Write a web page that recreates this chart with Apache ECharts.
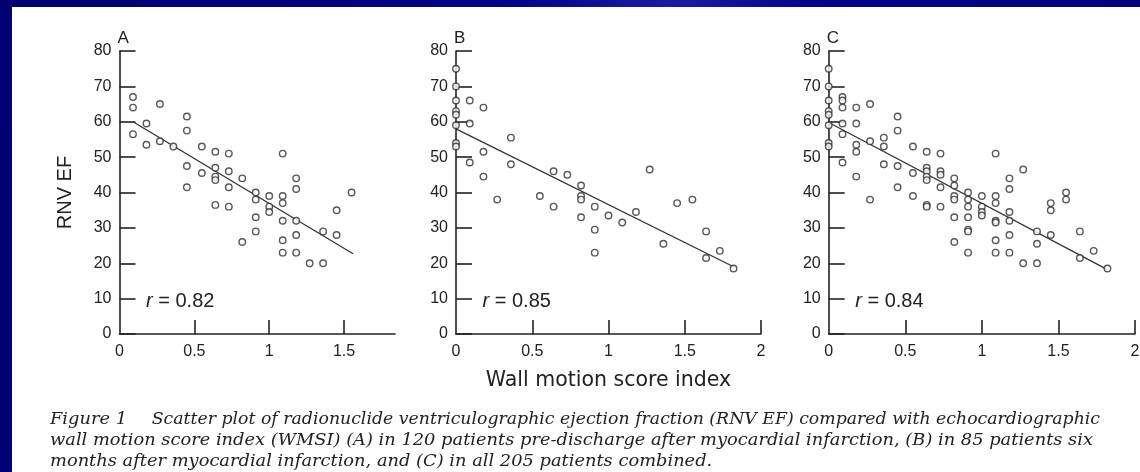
<!DOCTYPE html>
<html>
<head>
<meta charset="utf-8">
<title>Figure 1 - RNV EF vs wall motion score index</title>
<script src="https://cdn.jsdelivr.net/npm/echarts@6.0.0/dist/echarts.min.js"></script>
<style>
  html, body { margin: 0; padding: 0; }
  body {
    width: 1140px; height: 472px; overflow: hidden; position: relative;
    background: linear-gradient(100deg, #000070 0%, #000086 40%, #1a1aa2 55%, #000088 68%, #00007c 100%);
  }
  #main { position: absolute; left: 12px; top: 7px; width: 1128px; height: 465px; background: #fff; }
</style>
</head>
<body>
<div id="main"></div>
<script>
// tick labels
var yTicks = [0, 10, 20, 30, 40, 50, 60, 70, 80];
var xTicksA = [0, 0.5, 1, 1.5];
var xTicksBC = [0, 0.5, 1, 1.5, 2];

// (A) 120 patients pre-discharge: [WMSI, RNV EF]
var pointsA = [
  [0.09, 67], [0.09, 64], [0.09, 56.5],
  [0.18, 59.5], [0.18, 53.5],
  [0.27, 65], [0.27, 54.5],
  [0.36, 53],
  [0.45, 61.5], [0.45, 57.5], [0.45, 47.5], [0.45, 41.5],
  [0.55, 53], [0.55, 45.5],
  [0.64, 51.5], [0.64, 47], [0.64, 44.5], [0.64, 43.5], [0.64, 36.5],
  [0.73, 51], [0.73, 46], [0.73, 41.5], [0.73, 36],
  [0.82, 44], [0.82, 26],
  [0.91, 40], [0.91, 38], [0.91, 33], [0.91, 29],
  [1.0, 39], [1.0, 36], [1.0, 34.5],
  [1.09, 51], [1.09, 39], [1.09, 37], [1.09, 32], [1.09, 26.5], [1.09, 23],
  [1.18, 44], [1.18, 41], [1.18, 32], [1.18, 28], [1.18, 23],
  [1.27, 20],
  [1.36, 29], [1.36, 20],
  [1.45, 35], [1.45, 28],
  [1.55, 40]
];

// (B) 85 patients six months after MI
var pointsB = [
  [0, 75], [0, 70], [0, 66], [0, 63], [0, 62], [0, 59], [0, 54], [0, 53],
  [0.09, 66], [0.09, 59.5], [0.09, 48.5],
  [0.18, 64], [0.18, 51.5], [0.18, 44.5],
  [0.27, 38],
  [0.36, 55.5], [0.36, 48],
  [0.55, 39],
  [0.64, 46], [0.64, 36],
  [0.73, 45],
  [0.82, 42], [0.82, 39], [0.82, 38], [0.82, 33],
  [0.91, 36], [0.91, 29.5], [0.91, 23],
  [1.0, 33.5],
  [1.09, 31.5],
  [1.18, 34.5],
  [1.27, 46.5],
  [1.36, 25.5],
  [1.45, 37],
  [1.55, 38],
  [1.64, 29], [1.64, 21.5],
  [1.73, 23.5],
  [1.82, 18.5]
];

// (C) all 205 patients
var pointsC = [
  [0, 75], [0, 70], [0, 66], [0, 63], [0, 62], [0, 59], [0, 54], [0, 53],
  [0.09, 67], [0.09, 66], [0.09, 64], [0.09, 59.5], [0.09, 56.5], [0.09, 48.5],
  [0.18, 64], [0.18, 59.5], [0.18, 53.5], [0.18, 51.5], [0.18, 44.5],
  [0.27, 65], [0.27, 54.5], [0.27, 38],
  [0.36, 55.5], [0.36, 53], [0.36, 48],
  [0.45, 61.5], [0.45, 57.5], [0.45, 47.5], [0.45, 41.5],
  [0.55, 53], [0.55, 45.5], [0.55, 39],
  [0.64, 51.5], [0.64, 47], [0.64, 46], [0.64, 44.5], [0.64, 43.5], [0.64, 36.5], [0.64, 36],
  [0.73, 51], [0.73, 46], [0.73, 45], [0.73, 41.5], [0.73, 36],
  [0.82, 44], [0.82, 42], [0.82, 39], [0.82, 38], [0.82, 33], [0.82, 26],
  [0.91, 40], [0.91, 38], [0.91, 36], [0.91, 33], [0.91, 29.5], [0.91, 29], [0.91, 23],
  [1.0, 39], [1.0, 36], [1.0, 34.5], [1.0, 33.5],
  [1.09, 51], [1.09, 39], [1.09, 37], [1.09, 32], [1.09, 31.5], [1.09, 26.5], [1.09, 23],
  [1.18, 44], [1.18, 41], [1.18, 34.5], [1.18, 32], [1.18, 28], [1.18, 23],
  [1.27, 46.5], [1.27, 20],
  [1.36, 29], [1.36, 25.5], [1.36, 20],
  [1.45, 37], [1.45, 35], [1.45, 28],
  [1.55, 40], [1.55, 38],
  [1.64, 29], [1.64, 21.5],
  [1.73, 23.5],
  [1.82, 18.5]
];

// regression lines (end points)
var fitA = [[0.09, 60], [1.56, 22.7]];
var fitB = [[0, 58], [1.82, 19]];
var fitC = [[0, 59.8], [1.82, 18.2]];

var panelNames = ['A', 'B', 'C'];
var rValues = ['0.82', '0.85', '0.84'];

var captionHead = 'Figure 1';
var captionLines = [
  'Scatter plot of radionuclide ventriculographic ejection fraction (RNV EF) compared with echocardiographic',
  'wall motion score index (WMSI) (A) in 120 patients pre-discharge after myocardial infarction, (B) in 85 patients six',
  'months after myocardial infarction, and (C) in all 205 patients combined.'
];

var SANS = '"Liberation Sans", Arial, sans-serif';
var SERIF = '"DejaVu Serif", serif';
var INK = '#222';

// layout (px inside the white area)
var grids = [
  { left: 107.5, top: 44, width: 275.5, height: 283 },
  { left: 444, top: 44, width: 305, height: 283 },
  { left: 816.7, top: 44, width: 306.3, height: 283 }
];
var xMax = [1.84, 2, 2];
var allPoints = [pointsA, pointsB, pointsC];
var allFits = [fitA, fitB, fitC];

var axisLine = { onZero: false, lineStyle: { color: INK, width: 1.6 } };

var xAxes = grids.map(function (g, i) {
  var labels = i === 0 ? xTicksA : xTicksBC;
  var ax = {
    gridIndex: i, type: 'value', min: 0, max: xMax[i], interval: 0.5,
    axisLine: axisLine,
    axisTick: { inside: true, length: 14, customValues: labels.slice(1), lineStyle: { color: INK, width: 1.6 } },
    axisLabel: { customValues: labels, margin: 10, fontSize: 16, fontFamily: SANS, color: INK },
    splitLine: { show: false }
  };
  if (i === 1) {
    ax.name = 'Wall motion score index';
    ax.nameLocation = 'middle';
    ax.nameGap = 36;
    ax.nameTextStyle = { fontSize: 20.5, fontFamily: '"DejaVu Sans", sans-serif', color: INK };
  }
  return ax;
});

var yAxes = grids.map(function (g, i) {
  var ax = {
    gridIndex: i, type: 'value', min: yTicks[0], max: yTicks[yTicks.length - 1], interval: 10,
    axisLine: axisLine,
    axisTick: { inside: true, length: 16, lineStyle: { color: INK, width: 1.6 } },
    axisLabel: { margin: 8, fontSize: 16, fontFamily: SANS, color: INK },
    splitLine: { show: false }
  };
  if (i === 0) {
    ax.name = 'RNV EF';
    ax.nameLocation = 'middle';
    ax.nameRotate = 90;
    ax.nameGap = 44;
    ax.nameTextStyle = { fontSize: 20, fontFamily: SANS, color: INK };
  }
  return ax;
});

var series = [];
grids.forEach(function (g, i) {
  series.push({
    type: 'line', xAxisIndex: i, yAxisIndex: i, data: allFits[i],
    showSymbol: false, silent: true, z: 2,
    lineStyle: { color: '#333', width: 1.3 }
  });
  series.push({
    type: 'scatter', xAxisIndex: i, yAxisIndex: i, data: allPoints[i],
    symbol: 'circle', symbolSize: 6.5, clip: false, silent: true, z: 3,
    itemStyle: { color: '#fff', borderColor: '#2e2e2e', borderWidth: 1.4 }
  });
});

// caption: the printed lines are justified, so stretch each to its printed length
var ctx = document.createElement('canvas').getContext('2d');
ctx.font = 'italic 16px "DejaVu Serif"';
function fit(text, w) { return w / ctx.measureText(text).width; }
var capX = 38, capY = [412.5, 433.5, 454.5];
var restX = 139.7;
var scale2 = fit(captionLines[1], 1043);
var capScales = [fit(captionLines[0], 1088 - restX), scale2, scale2];

var graphics = [];
grids.forEach(function (g, i) {
  graphics.push({
    type: 'text', x: g.left - 2, y: 31,
    style: { text: panelNames[i], fontSize: 17, fontFamily: SANS, fill: INK, align: 'left', verticalAlign: 'middle' }
  });
  graphics.push({
    type: 'text', x: g.left + 26.5, y: 294,
    style: {
      text: '{i|r}{n| = ' + rValues[i] + '}', align: 'left', verticalAlign: 'middle',
      rich: {
        i: { fontStyle: 'italic', fontSize: 20, fontFamily: SANS, fill: INK },
        n: { fontSize: 20, fontFamily: SANS, fill: INK }
      }
    }
  });
});
graphics.push({
  type: 'text', x: capX, y: capY[0], scaleX: scale2,
  style: { text: captionHead, fontSize: 16, fontStyle: 'italic', fontFamily: SERIF, fill: '#222', align: 'left', verticalAlign: 'middle' }
});
captionLines.forEach(function (t, k) {
  graphics.push({
    type: 'text', x: k === 0 ? restX : capX, y: capY[k], scaleX: capScales[k],
    style: { text: t, fontSize: 16, fontStyle: 'italic', fontFamily: SERIF, fill: '#222', align: 'left', verticalAlign: 'middle' }
  });
});

var chart = echarts.init(document.getElementById('main'));
chart.setOption({
  animation: false,
  backgroundColor: '#fff',
  grid: grids.map(function (g) {
    return { left: g.left, top: g.top, width: g.width, height: g.height, outerBoundsMode: 'none' };
  }),
  xAxis: xAxes,
  yAxis: yAxes,
  series: series,
  graphic: graphics
});
</script>
</body>
</html>
